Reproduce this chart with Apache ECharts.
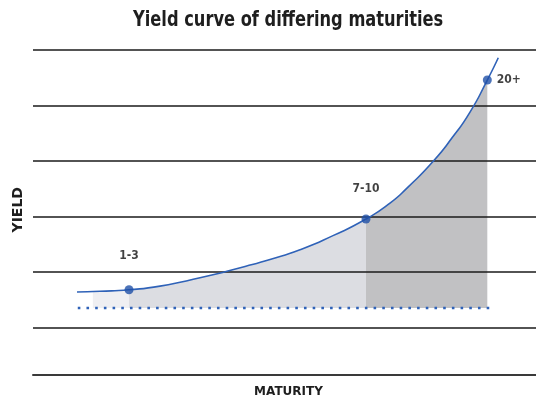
<!DOCTYPE html>
<html><head><meta charset="utf-8">
<script src="https://cdn.jsdelivr.net/npm/echarts@6/dist/echarts.min.js"></script>
<style>html,body{margin:0;padding:0;background:#fff}#c{width:536px;height:403px}</style>
</head><body><div id="c"></div>
<script>
// Curve readings (maturity on an arbitrary 0-100 scale, yield in grid units)
const maturityX = [8.75, 13.32, 19.09, 25.25, 33.2, 42.15, 47.12, 53.08, 59.64, 66.2, 70.97, 74.55, 79.52, 83.5, 86.88, 90.32, 92.5];
const yieldY    = [0.640, 0.652, 0.680, 0.745, 0.895, 1.10, 1.225, 1.40, 1.655, 1.955, 2.24, 2.53, 2.99, 3.44, 3.88, 4.459, 4.86];
// Marked maturity buckets
const bucketNames = ['1-3', '7-10', '20+'];
const bucketX = [19.09, 66.2, 90.32];
const bucketY = [0.680, 1.955, 4.459];
// Shaded bands (start / end maturity, yield at the start edge)
const shadeFrom = [11.9, 19.09, 66.2];
const shadeFromY = [0.649, 0.680, 1.955];
const shadeTo   = [19.09, 66.2, 90.32];
// Dotted base yield line
const baseYield = 0.351;
const baseRange = [8.9, 91.5];

const shadeColors = ['#efeff2', '#dcdde2', '#c1c1c3'];
const curve = maturityX.map((x, i) => [x, yieldY[i]]);

const shadeSeries = shadeFrom.map((from, k) => {
  const pts = curve.filter(p => p[0] > from + 1e-9 && p[0] <= shadeTo[k] + 1e-9);
  return {
    type: 'line',
    data: [[from, shadeFromY[k]]].concat(pts),
    smooth: 0.6,
    showSymbol: false,
    silent: true,
    lineStyle: { width: 0 },
    areaStyle: { color: shadeColors[k], opacity: 1, origin: baseYield },
    z: 1
  };
});

const chart = echarts.init(document.getElementById('c'), null, { renderer: 'canvas' });
chart.setOption({
  animation: false,
  backgroundColor: '#ffffff',
  graphic: [{
    type: 'text',
    left: 133, top: 10,
    scaleX: 0.86,
    style: {
      text: 'Yield curve of differing maturities',
      font: 'bold 21px "DejaVu Sans Condensed", "DejaVu Sans", sans-serif',
      fill: '#1e1e1e'
    }
  }],
  grid: { left: 33, right: 0, top: 50, bottom: 75.5 },
  xAxis: {
    type: 'value', min: 0, max: 100,
    offset: 47.5,
    axisLine: { show: true, onZero: false, lineStyle: { color: '#3a3a3a', width: 2 } },
    axisTick: { show: false }, axisLabel: { show: false }, splitLine: { show: false },
    name: 'MATURITY', nameLocation: 'middle', nameGap: 11,
    nameTextStyle: { fontFamily: 'DejaVu Sans', fontWeight: 'bold', fontSize: 12, color: '#1e1e1e', padding: [0, 0, 0, 8] }
  },
  yAxis: {
    type: 'value', min: 0, max: 5, interval: 1,
    z: 3,
    axisLine: { show: false }, axisTick: { show: false }, axisLabel: { show: false },
    splitLine: { show: true, lineStyle: { color: '#1a1a1a', width: 1.7 } },
    name: 'YIELD', nameLocation: 'middle', nameGap: 8, nameRotate: 90,
    nameTextStyle: { fontFamily: 'DejaVu Sans', fontWeight: 'bold', fontSize: 14, color: '#1e1e1e', padding: [0, 42, 0, 0] }
  },
  series: shadeSeries.concat([
    {
      type: 'line',
      data: baseRange.map(x => [x, baseYield]),
      showSymbol: false, silent: true,
      lineStyle: { color: '#2f62b8', width: 2.6, type: [2.6, 6.1] },
      z: 4
    },
    {
      type: 'line',
      data: curve,
      smooth: 0.6,
      showSymbol: false, silent: true,
      lineStyle: { color: '#2f62b8', width: 1.6 },
      z: 5
    },
    {
      type: 'scatter',
      data: bucketX.map((x, i) => ({
        value: [x, bucketY[i]], name: bucketNames[i],
        label: i === 2 ? { position: 'right', distance: 5 } : { position: 'top', distance: i === 0 ? 23 : 20 }
      })),
      symbolSize: 9,
      itemStyle: { color: '#1f50a8' },
      label: {
        show: true, formatter: p => p.name,
        fontFamily: 'DejaVu Sans Condensed, DejaVu Sans', fontWeight: 'bold', fontSize: 12, color: '#111111'
      },
      z: 6
    }
  ])
});
</script>
</body></html>
